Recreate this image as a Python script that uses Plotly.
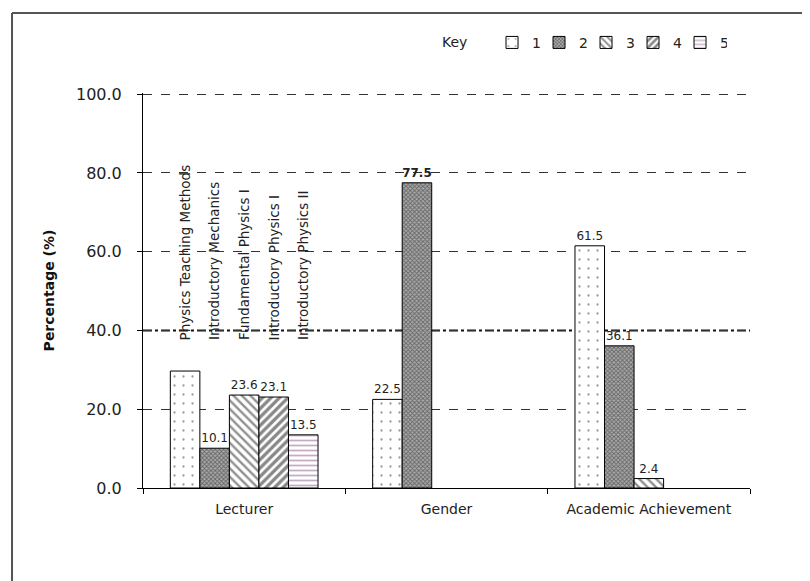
import plotly.graph_objects as go

categories = ["Lecturer", "Gender", "Academic Achievement"]
series_names = ["1", "2", "3", "4", "5"]
s1 = [29.7, 22.5, 61.5]
s2 = [10.1, 77.5, 36.1]
s3 = [23.6, None, 2.4]
s4 = [23.1, None, None]
s5 = [13.5, None, None]
lecturer_courses = ["Physics Teaching Methods", "Introductory Mechanics",
                    "Fundamental Physics I", "Introductory Physics I", "Introductory Physics II"]
y_ticks = [0, 20, 40, 60, 80, 100]
y_tick_labels = ["0.0", "20.0", "40.0", "60.0", "80.0", "100.0"]

values = [s1, s2, s3, s4, s5]
patterns = [
    dict(shape=".", fgcolor="#333", bgcolor="white", size=9, solidity=0.05),
    dict(shape="x", fgcolor="#222", bgcolor="#aaa", size=3, solidity=0.5),
    dict(shape="\\", fgcolor="#222", bgcolor="white", size=6, solidity=0.4),
    dict(shape="/", fgcolor="#111", bgcolor="white", size=6, solidity=0.55),
    dict(shape="-", fgcolor="#8a5a8a", bgcolor="white", size=5, solidity=0.35),
]

def fmt(v, i, k):
    if v is None:
        return ""
    if k == 0 and i == 0:
        return ""
    if k == 1 and i == 1:
        return "<b>%.1f</b>" % v
    return "%.1f" % v

FONT = "DejaVu Sans, Verdana, sans-serif"
fig = go.Figure()
for k, (name, vals, pat) in enumerate(zip(series_names, values, patterns)):
    fig.add_trace(go.Bar(
        x=categories, y=vals, name=name,
        marker=dict(color="white", pattern=pat, line=dict(color="black", width=1)),
        text=[fmt(v, i, k) for i, v in enumerate(vals)],
        textposition="outside", cliponaxis=False,
        textfont=dict(family=FONT, size=12, color="#222"),
    ))

bargap = 0.27
w = (1 - bargap) / len(series_names)
annotations = []
for k, course in enumerate(lecturer_courses):
    annotations.append(dict(
        x=(k - 2) * w, y=37, xref="x", yref="y", text=course, textangle=-90,
        showarrow=False, xanchor="center", yanchor="bottom",
        font=dict(family=FONT, size=13.5, color="#222")))
annotations.append(dict(x=0.514, y=1.129, xref="paper", yref="paper", text="Key",
                        xanchor="center", yanchor="middle",
                        showarrow=False, font=dict(family=FONT, size=14, color="#222")))

shapes = [
    dict(type="line", xref="paper", yref="y", x0=0, x1=1, y0=40, y1=40,
         line=dict(color="#111", width=2, dash="dashdot"), layer="below"),
    dict(type="line", xref="paper", yref="paper", x0=-0.2158, x1=1.12, y0=1.2025, y1=1.2025,
         line=dict(color="#555", width=2)),
    dict(type="line", xref="paper", yref="paper", x0=-0.2158, x1=-0.2158, y0=1.2025, y1=-0.25,
         line=dict(color="#555", width=2)),
]

fig.update_layout(
    width=810, height=581,
    margin=dict(l=135, r=68, t=85, b=101, autoexpand=False),
    paper_bgcolor="white", plot_bgcolor="white",
    barmode="group", bargap=bargap, bargroupgap=0,
    font=dict(family=FONT, size=13, color="#222"),
    showlegend=True,
    legend=dict(orientation="h", x=0.575, y=1.127, xanchor="left", yanchor="middle",
                font=dict(family=FONT, size=14), itemwidth=30, traceorder="normal",
                entrywidth=2, entrywidthmode="pixels", bgcolor="rgba(0,0,0,0)"),
    annotations=annotations,
    shapes=shapes,
    xaxis=dict(showline=True, linecolor="black", linewidth=1, ticks="outside",
               tickson="boundaries", ticklen=5, tickcolor="black", ticklabelstandoff=8,
               tickfont=dict(family=FONT, size=14, color="#222"), showgrid=False),
    yaxis=dict(range=[0, 100.3], tickvals=y_ticks, ticktext=y_tick_labels,
               showline=True, linecolor="black", linewidth=1, ticks="outside",
               ticklen=5, tickcolor="black", ticklabelstandoff=12,
               tickfont=dict(family=FONT, size=16, color="#222"),
               showgrid=True, gridcolor="#333", griddash="dash", gridwidth=1,
               zeroline=False,
               title=dict(text="<b>Percentage (%)</b>", font=dict(family=FONT, size=14, color="#111"),
                          standoff=18)),
)

fig.write_html("out.html")
